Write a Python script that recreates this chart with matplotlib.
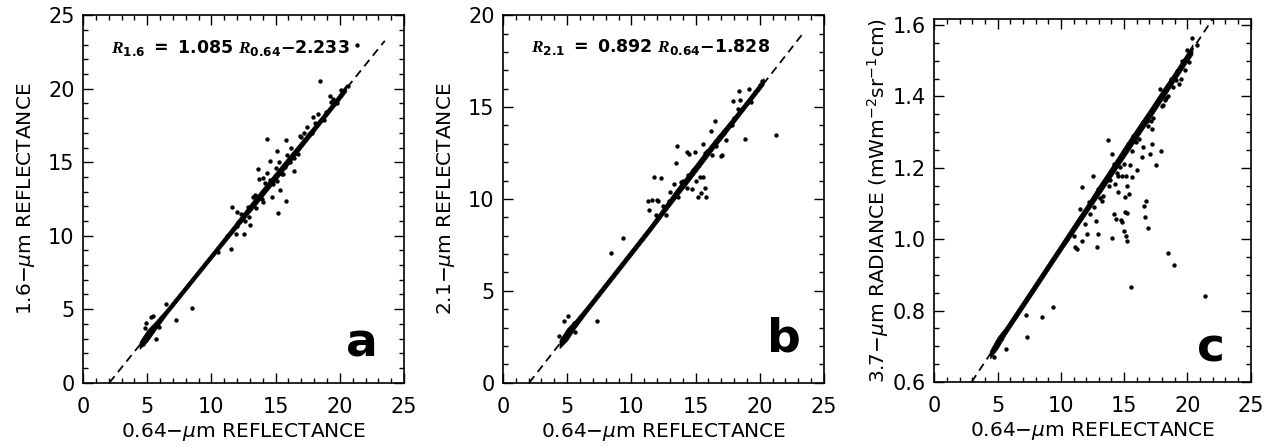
import matplotlib
matplotlib.use("Agg")
import matplotlib.pyplot as plt
from matplotlib.ticker import MultipleLocator

plt.rcParams['font.family'] = ['DejaVu Sans']
plt.rcParams['mathtext.fontset'] = 'custom'
plt.rcParams['mathtext.rm'] = 'DejaVu Sans'
plt.rcParams['mathtext.it'] = 'DejaVu Sans:italic'
plt.rcParams['mathtext.bf'] = 'DejaVu Sans:bold'
plt.rcParams['mathtext.bfit'] = 'Liberation Serif:italic:bold'

# ---- panel a: 1.6 um vs 0.64 um reflectance ----
a_band_x = [4.4, 5.0, 5.6, 6.5, 8.0, 10.0, 11.5, 12.5, 13.5, 14.5, 15.5, 16.5, 17.5, 18.5, 19.5, 20.5]
a_band_lo = [2.30, 2.80, 3.55, 4.62, 6.25, 8.42, 10.02, 11.08, 12.14, 13.22, 14.30, 15.42, 16.52, 17.62, 18.70, 19.82]
a_band_hi = [2.78, 3.58, 4.13, 5.02, 6.65, 8.82, 10.46, 11.58, 12.70, 13.78, 14.86, 15.92, 16.98, 18.06, 19.14, 20.30]
a_x = [21.37, 18.46, 14.36, 15.81, 13.65, 16.43, 15.81, 15.21, 11.63, 12.02, 13.0, 11.53, 19.24, 17.94,
       16.9, 15.08, 14.56, 16.77, 14.04, 14.69, 15.34, 15.08, 13.73, 15.6, 12.54, 12.87, 11.97, 16.12,
       17.42, 11.94, 10.54, 6.43, 8.46, 7.24, 5.3, 4.91, 5.68, 4.83, 5.48, 12.6,
       13.2, 13.8, 14.2, 14.8, 14.3, 15.3, 15.7, 16.2, 16.6, 17.2, 17.8, 18.3, 18.8, 19.5, 19.8,
       12.3, 12.9, 13.5, 14.0, 5.1, 5.4, 4.7, 5.9,
       13.4, 13.9, 14.6, 15.0, 15.5, 15.9, 16.4, 17.0, 17.6, 18.1, 18.9, 19.3, 20.1, 20.6, 12.1, 11.2]
a_y = [23.0, 20.5, 16.57, 16.52, 14.55, 14.43, 12.34, 11.52, 11.98, 11.59, 10.73, 9.09, 19.54, 18.07,
       16.8, 15.75, 15.11, 15.57, 12.27, 12.61, 13.11, 13.75, 13.86, 14.2, 10.12, 11.93, 10.64, 15.0,
       17.38, 10.12, 8.86, 5.34, 5.05, 4.27, 4.48, 4.05, 2.96, 3.75, 4.55, 11.0,
       12.6, 12.6, 13.6, 13.5, 14.3, 15.0, 14.7, 16.0, 15.6, 17.0, 17.0, 18.3, 17.9, 19.3, 19.0,
       11.5, 11.3, 11.9, 13.9, 3.3, 3.5, 2.6, 3.8,
       12.8, 12.5, 13.8, 14.6, 14.2, 15.5, 15.3, 16.7, 16.9, 17.7, 18.4, 19.1, 19.9, 20.2, 10.9, 10.0]
a_fit = (1.085, -2.233)
a_fit_x = [2.06, 23.5]

# ---- panel b: 2.1 um vs 0.64 um reflectance ----
b_band_x = [4.4, 5.0, 5.6, 6.5, 8.0, 10.0, 11.5, 12.5, 13.5, 14.5, 15.5, 16.5, 17.5, 18.5, 19.5, 20.3]
b_band_lo = [1.88, 2.30, 2.95, 3.79, 5.13, 6.91, 8.25, 9.17, 10.08, 10.98, 11.90, 12.82, 13.70, 14.60, 15.50, 16.22]
b_band_hi = [2.32, 2.96, 3.39, 4.15, 5.49, 7.27, 8.61, 9.57, 10.54, 11.44, 12.36, 13.26, 14.10, 14.96, 15.86, 16.58]
b_x = [21.26, 18.85, 18.46, 18.4, 16.51, 13.58, 13.45, 11.78, 12.3, 11.4, 12.05, 11.27, 9.32, 8.41, 7.3,
       5.04, 4.75, 5.55, 16.98, 15.81, 15.21, 15.55, 15.73, 14.95, 14.51, 19.19, 17.89, 16.17, 15.6,
       14.36, 15.34, 15.39, 14.7, 17.03, 11.6, 11.97, 5.61, 4.39, 12.69,
       13.0, 13.6, 14.0, 14.3, 14.8, 15.0, 15.9, 16.3, 16.9, 17.4, 18.0, 18.6, 19.0, 19.6, 20.0,
       12.5, 13.3, 4.6, 5.2,
       13.9, 14.4, 15.2, 15.7, 16.6, 17.2, 17.8, 18.3, 19.3, 20.2, 12.9, 11.9]
b_y = [13.5, 13.28, 15.37, 15.88, 14.22, 12.91, 11.95, 11.18, 11.15, 9.42, 9.91, 9.91, 7.86, 7.04, 3.33,
       3.64, 3.37, 3.22, 12.33, 10.09, 10.09, 11.18, 10.6, 12.55, 12.46, 16.0, 15.33, 13.69, 13.0,
       12.55, 11.22, 10.31, 10.55, 12.37, 9.95, 9.95, 2.77, 2.55, 9.15,
       10.4, 10.1, 11.0, 10.6, 11.6, 11.0, 12.6, 12.4, 13.4, 13.2, 14.4, 14.9, 15.2, 15.8, 16.2,
       9.6, 10.8, 2.3, 2.9,
       10.9, 11.3, 11.8, 12.5, 12.9, 13.6, 14.0, 14.9, 15.3, 16.4, 9.9, 9.1]
b_fit = (0.892, -1.828)
b_fit_x = [2.05, 23.4]

# ---- panel c: 3.7 um radiance vs 0.64 um reflectance ----
c_band_x = [4.4, 5.0, 5.6, 6.5, 8.0, 10.0, 11.0, 12.0, 13.0, 14.0, 15.0, 16.0, 17.0, 18.0, 19.0, 20.0, 20.4]
c_band_lo = [0.666, 0.694, 0.731, 0.779, 0.859, 0.966, 1.018, 1.071, 1.123, 1.176, 1.229, 1.282, 1.336,
             1.390, 1.444, 1.498, 1.518]
c_band_hi = [0.688, 0.726, 0.753, 0.801, 0.881, 0.988, 1.042, 1.095, 1.151, 1.204, 1.259, 1.312, 1.364,
             1.418, 1.470, 1.524, 1.546]
c_x = [21.38, 18.5, 18.97, 15.51, 9.4, 8.53, 7.24, 7.3, 5.64, 12.83, 14.01, 15.25, 15.14, 14.98, 14.8,
       14.19, 15.06, 16.64, 16.9, 16.72, 16.56, 17.88, 17.51, 17.17, 16.51, 12.95, 11.25, 12.04, 14.01,
       11.51, 14.72, 14.35, 15.19, 17.04, 16.38, 16.03, 15.59, 15.46, 15.14, 14.53, 14.8, 14.27, 15.19,
       15.4, 15.06, 14.53, 13.22, 13.35, 11.64, 12.56, 12.77, 11.9, 11.64, 11.11, 13.74, 17.17, 18.09,
       18.22, 18.88, 19.8, 20.33, 20.72,
       13.5, 13.8, 14.5, 15.0, 15.7, 16.2, 16.8, 17.3, 17.8, 18.5, 19.2, 19.5, 20.0, 12.3, 12.6, 10.5,
       11.0, 4.7, 5.3, 5.0, 4.8,
       12.2, 12.9, 13.3, 13.9, 14.2, 14.7, 15.3, 15.9, 16.5, 17.1, 17.6, 18.3, 18.7, 19.1, 19.6, 20.1,
       13.1, 14.4, 15.6, 16.9, 18.0, 19.3]
c_y = [0.842, 0.961, 0.929, 0.867, 0.809, 0.783, 0.788, 0.727, 0.692, 0.977, 1.004, 0.996, 1.01, 1.024,
       1.049, 1.071, 1.076, 1.063, 1.031, 1.108, 1.094, 1.247, 1.207, 1.268, 1.258, 1.015, 0.973, 1.015,
       1.24, 1.085, 1.054, 1.057, 1.073, 1.24, 1.23, 1.193, 1.174, 1.207, 1.176, 1.176, 1.176, 1.155,
       1.149, 1.127, 1.118, 1.132, 1.108, 1.122, 1.146, 1.176, 1.052, 1.043, 0.996, 0.977, 1.277, 1.31,
       1.375, 1.389, 1.427, 1.474, 1.563, 1.544,
       1.16, 1.15, 1.22, 1.21, 1.29, 1.28, 1.33, 1.34, 1.42, 1.40, 1.47, 1.45, 1.53, 1.07, 1.09, 1.00,
       1.01, 0.67, 0.72, 0.715, 0.695,
       1.103, 1.141, 1.155, 1.165, 1.211, 1.203, 1.267, 1.272, 1.328, 1.332, 1.385, 1.397, 1.450, 1.446,
       1.500, 1.496, 1.115, 1.186, 1.246, 1.318, 1.372, 1.434]
c_fit = (0.0534, 0.4425)
c_fit_x = [2.95, 22.3]

panels = [
    dict(band=(a_band_x, a_band_lo, a_band_hi), pts=(a_x, a_y), fit=a_fit, fit_x=a_fit_x,
         ylim=(0, 25), ymaj=5, ymin=1, ylabel=r'1.6$-\mu$m REFLECTANCE', letter='a', letter_xy=(21.7, 2.6),
         eq=r'$\mathbfit{R}_{\mathbf{1.6}}\ \mathbf{=}\ \mathbf{1.085}\ \mathbfit{R}_{\mathbf{0.64}}\mathbf{-2.233}$',
         eq_xy=(2.2, 22.8), pos=[0.0653, 0.1440, 0.2526, 0.8218], yfmt='%d', ylpad=8),
    dict(band=(b_band_x, b_band_lo, b_band_hi), pts=(b_x, b_y), fit=b_fit, fit_x=b_fit_x,
         ylim=(0, 20), ymaj=5, ymin=1, ylabel=r'2.1$-\mu$m REFLECTANCE', letter='b', letter_xy=(21.9, 2.4),
         eq=r'$\mathbfit{R}_{\mathbf{2.1}}\ \mathbf{=}\ \mathbf{0.892}\ \mathbfit{R}_{\mathbf{0.64}}\mathbf{-1.828}$',
         eq_xy=(2.2, 18.25), pos=[0.3957, 0.1440, 0.2526, 0.8218], yfmt='%d', ylpad=8),
    dict(band=(c_band_x, c_band_lo, c_band_hi), pts=(c_x, c_y), fit=c_fit, fit_x=c_fit_x,
         ylim=(0.6, 1.617), ymaj=0.2, ymin=0.05,
         ylabel=r'3.7$-\mu$m RADIANCE (mWm$^{-2}$sr$^{-1}$cm)', letter='c', letter_xy=(21.9, 0.692),
         eq=None, eq_xy=None, pos=[0.7351, 0.1455, 0.2489, 0.8120], yfmt='%.1f', ylpad=1),
]

fig = plt.figure(figsize=(12.71, 4.47), dpi=100)

for p in panels:
    ax = fig.add_axes(p['pos'])
    bx, blo, bhi = p['band']
    ax.fill_between(bx, blo, bhi, color='black', lw=0.5)
    ax.scatter(p['pts'][0], p['pts'][1], s=10, color='black', linewidths=0)
    m, c = p['fit']
    fx = p['fit_x']
    ax.plot(fx, [m * v + c for v in fx], color='black', lw=1.3, ls=(0, (4.5, 3)))
    ax.set_xlim(0, 25)
    ax.set_ylim(*p['ylim'])
    ax.xaxis.set_major_locator(MultipleLocator(5))
    ax.xaxis.set_minor_locator(MultipleLocator(1))
    ax.yaxis.set_major_locator(MultipleLocator(p['ymaj']))
    ax.yaxis.set_minor_locator(MultipleLocator(p['ymin']))
    ax.yaxis.set_major_formatter(plt.FormatStrFormatter(p['yfmt']))
    ax.tick_params(which='both', direction='in', top=True, right=True, labelsize=15, width=1)
    ax.tick_params(which='major', length=7)
    ax.tick_params(axis='x', which='major', pad=10)
    ax.tick_params(axis='y', which='major', pad=6)
    ax.tick_params(which='minor', length=3.5)
    for s in ax.spines.values():
        s.set_linewidth(1.2)
    ax.set_xlabel(r'0.64$-\mu$m REFLECTANCE', fontsize=14.5, labelpad=3)
    ax.set_ylabel(p['ylabel'], fontsize=14.5, labelpad=p['ylpad'])
    ax.text(p['letter_xy'][0], p['letter_xy'][1], p['letter'], fontsize=34, fontweight='bold',
            ha='center', va='center')
    if p['eq']:
        ax.text(p['eq_xy'][0], p['eq_xy'][1], p['eq'], fontsize=12.5, ha='left', va='center')

fig.savefig('out.png', dpi=100)
